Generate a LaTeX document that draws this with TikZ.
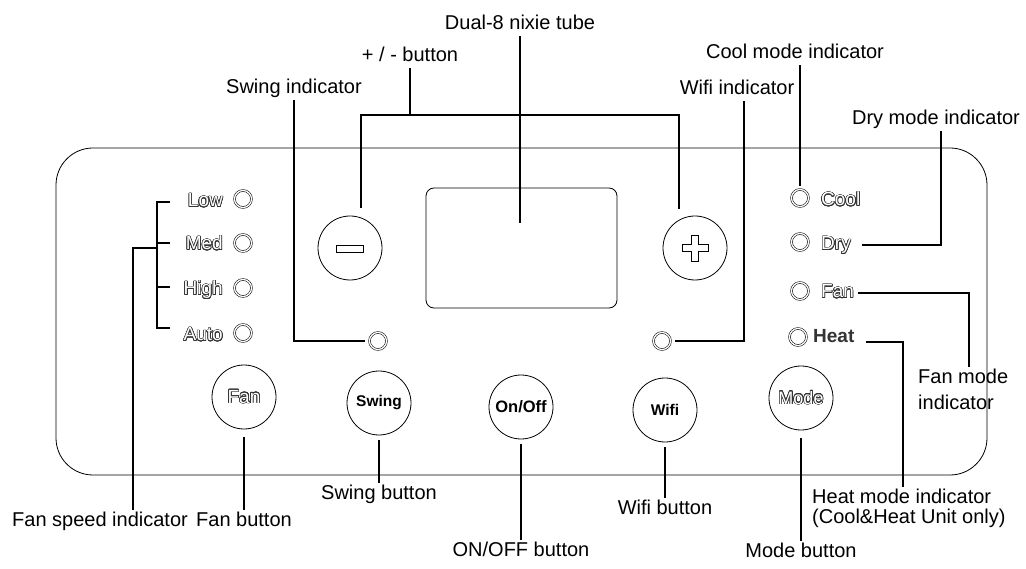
\documentclass[tikz,border=0pt]{standalone}
\usepackage{fontspec}
\setmainfont{Liberation Sans}
\usepackage[copies]{contour}
\contourlength{0.6pt}
\contournumber{24}
\newcommand\outl[1]{\contour{black!80}{\textcolor{white}{#1}}}
\begin{document}
\begin{tikzpicture}[x=1pt,y=-1pt,
  lbl/.style={font=\fontsize{20}{24}\selectfont, inner sep=2pt, text height=14pt, text depth=4pt},
  lblm/.style={font=\fontsize{20}{24}\selectfont, inner sep=2pt, align=left},
  lead/.style={line width=1.3pt},
  btn/.style={circle, draw, line width=0.8pt, minimum size=64pt, inner sep=0pt},
  led/.style={circle, draw, double, double distance=1.3pt, line width=0.55pt, minimum size=17pt, inner sep=0pt},
  ptxt/.style={font=\fontsize{19}{19}\selectfont, inner sep=0pt}]
\useasboundingbox (0,0) rectangle (1026,569);

% panel and display
\node[draw, rounded corners=37pt, line width=0.8pt, minimum width=931pt, minimum height=327pt, inner sep=0pt] (panel) at (521.5,311.5) {};
\node[draw, rounded corners=8pt, line width=0.8pt, minimum width=191pt, minimum height=120pt, inner sep=0pt] (display) at (521.5,248) {};

% +/- buttons
\node[btn] (minus) at (350,248) {};
\node[draw, line width=0.7pt, minimum width=27pt, minimum height=7pt, inner sep=0pt] (minusGlyph) at (350,249) {};
\node[btn] (plus) at (695,248) {};
\draw[line width=0.7pt] (691.5,235) -- ++(7,0) -- ++(0,9.5) -- ++(9.5,0) -- ++(0,7) -- ++(-9.5,0) -- ++(0,9.5) -- ++(-7,0) -- ++(0,-9.5) -- ++(-9.5,0) -- ++(0,-7) -- ++(9.5,0) -- cycle;

% left LEDs
\node[led] (ledLow) at (243,199) {};
\node[led] (ledMed) at (243,243) {};
\node[led] (ledHigh) at (243,288) {};
\node[led] (ledAuto) at (243,333) {};
\node[ptxt, anchor=base east] (txtLow) at (223,207) {\outl{Low}};
\node[ptxt, anchor=base east] (txtMed) at (223,250) {\outl{Med}};
\node[ptxt, anchor=base east] (txtHigh) at (223,295) {\outl{High}};
\node[ptxt, anchor=base east] (txtAuto) at (223,341) {\outl{Auto}};

% right LEDs
\node[led] (ledCool) at (800,198) {};
\node[led] (ledDry) at (800,242) {};
\node[led] (ledFan) at (800,291) {};
\node[led] (ledHeat) at (798,337) {};
\node[ptxt, anchor=base west] (txtCool) at (821,206) {\outl{Cool}};
\node[ptxt, anchor=base west] (txtDry) at (821,250) {\outl{Dry}};
\node[ptxt, anchor=base west] (txtFan) at (821,298) {\outl{Fan}};
\node[ptxt, anchor=base west] (txtHeat) at (813,343) {\bfseries\textcolor{black!80}{Heat}};

% swing / wifi indicator LEDs
\node[led] (ledSwing) at (378,341) {};
\node[led] (ledWifi) at (662,341) {};

% buttons
\node[btn] (fanBtn) at (244,397) {\fontsize{19}{19}\selectfont\outl{Fan}};
\node[btn] (swingBtn) at (379,403) {\fontsize{15.5}{15.5}\selectfont\bfseries Swing};
\node[btn] (onBtn) at (521,407) {\fontsize{16.5}{16.5}\selectfont\bfseries On/Off};
\node[btn] (wifiBtn) at (665,410) {\fontsize{15.5}{15.5}\selectfont\bfseries Wifi};
\node[btn] (modeBtn) at (801,398) {\fontsize{18}{18}\selectfont\outl{Mode}};

% top labels
\node[lbl, anchor=base] (dualLbl) at (520,30) {Dual-8 nixie tube};
\node[lbl, anchor=base] (pmLbl) at (410,62) {+ / - button};
\node[lbl, anchor=base] (swiLbl) at (294,94) {Swing indicator};
\node[lbl, anchor=base] (wiLbl) at (737,95) {Wifi indicator};
\node[lbl, anchor=base] (coolLbl) at (795,59) {Cool mode indicator};
\node[lbl, anchor=base] (dryLbl) at (936,125) {Dry mode indicator};

% bottom labels
\node[lbl, anchor=base] (fsLbl) at (100,526) {Fan speed indicator};
\node[lbl, anchor=base] (fbLbl) at (244,526) {Fan button};
\node[lbl, anchor=base] (sbLbl) at (379,499) {Swing button};
\node[lbl, anchor=base] (onLbl) at (521,556) {ON/OFF button};
\node[lbl, anchor=base] (wbLbl) at (665,514) {Wifi button};
\node[lbl, anchor=base] (mbLbl) at (801,557) {Mode button};
\node[lblm, anchor=north west] (fanModeLbl) at (916,367) {Fan mode\\[2pt]indicator};
\node[lblm, anchor=north west] (heatLbl) at (810,487) {Heat mode indicator\\[-4pt](Cool\&Heat Unit only)};

% coordinates
\coordinate (dualEnd) at (520,223);
\coordinate (pmJoin) at (410,115);
\coordinate (mTop) at (361,115);
\coordinate (pTop) at (679,115);
\coordinate (mEnd) at (361,208);
\coordinate (pEnd) at (679,209);
\coordinate (swiCorner) at (294,341);
\coordinate (wiCorner) at (744,341);
\coordinate (dryCorner) at (941,245);
\coordinate (dryEnd) at (862,245);
\coordinate (fanStart) at (858,293);
\coordinate (fanCorner) at (969,293);
\coordinate (heatStart) at (866,342);
\coordinate (heatCorner) at (903,342);
\coordinate (tLow) at (170,202);
\coordinate (tMed) at (170,243);
\coordinate (tHigh) at (170,287);
\coordinate (tAuto) at (170,328);
\coordinate (bTop) at (157,202);
\coordinate (bBot) at (157,328);
\coordinate (bMed) at (157,248);
\coordinate (fsCorner) at (133,248);

% leaders
\draw[lead] (dualLbl.south) -- (dualEnd);
\draw[lead] (pmLbl.south) -- (pmJoin);
\draw[lead] (mEnd) -- (mTop) -- (pTop) -- (pEnd);
\draw[lead, shorten >=4pt] (swiLbl.south) -- (swiCorner) -- (ledSwing.west);
\draw[lead, shorten >=4pt] (wiLbl.south -| wiCorner) -- (wiCorner) -- (ledWifi.east);
\draw[lead, shorten >=3pt] (coolLbl.south -| ledCool) -- (ledCool.north);
\draw[lead] (dryLbl.south -| dryCorner) -- (dryCorner) -- (dryEnd);
\draw[lead] (fanStart) -- (fanCorner) -- (fanCorner |- fanModeLbl.north);
\draw[lead] (heatStart) -- (heatCorner) -- (heatCorner |- heatLbl.north);

\draw[lead] (tLow) -- (bTop) -- (bBot) -- (tAuto);
\draw[lead] (bTop |- tMed) -- (tMed);
\draw[lead] (bTop |- tHigh) -- (tHigh);
\draw[lead] (bMed) -- (fsCorner) -- (fsCorner |- fsLbl.north);

\draw[lead] ([yshift=-8pt]fanBtn.south) -- (fbLbl.north);
\draw[lead] ([yshift=-5pt]swingBtn.south) -- (sbLbl.north);
\draw[lead] ([yshift=-5pt]onBtn.south) -- (onLbl.north);
\draw[lead] ([yshift=-5pt]wifiBtn.south) -- (wbLbl.north);
\draw[lead] ([yshift=-8pt]modeBtn.south) -- (mbLbl.north);
\end{tikzpicture}
\end{document}
